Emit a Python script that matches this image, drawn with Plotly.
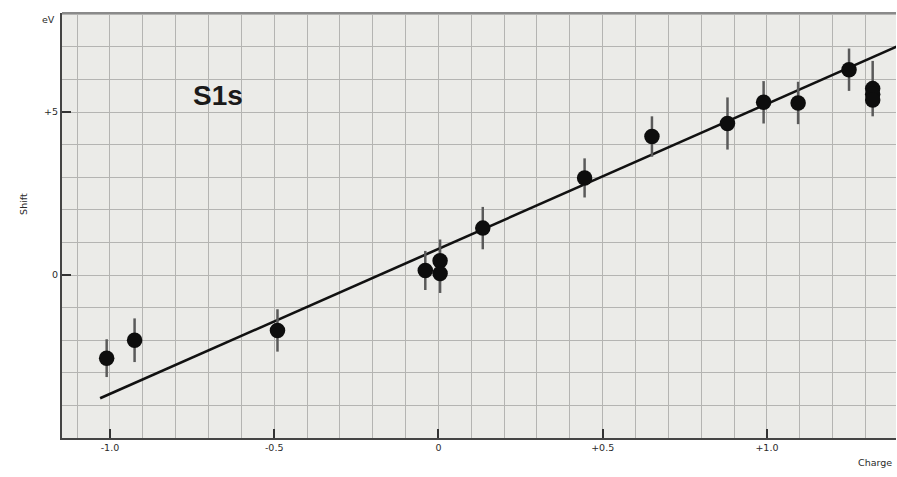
import plotly.graph_objects as go

charge = [-1.01, -0.925, -0.49, -0.04, 0.005, 0.005, 0.135, 0.445, 0.65, 0.88, 0.99, 1.095, 1.25, 1.322, 1.322, 1.322]
shift = [-2.55, -2.0, -1.7, 0.14, 0.44, 0.05, 1.44, 2.98, 4.25, 4.65, 5.3, 5.28, 6.3, 5.72, 5.55, 5.37]
err = [0.58, 0.67, 0.65, 0.6, 0.65, 0.6, 0.65, 0.6, 0.62, 0.8, 0.65, 0.65, 0.65, 0.85, 0.0, 0.0]

fit_x = [-1.03, 1.40]
fit_y = [-3.78, 7.03]

x_tickvals = [-1.0, -0.5, 0, 0.5, 1.0]
x_ticktext = ["-1.0", "-0.5", "0", "+0.5", "+1.0"]
y_tickvals = [0, 5]
y_ticktext = ["0", "+5"]

fig = go.Figure()
fig.add_trace(go.Scatter(
    x=fit_x, y=fit_y, mode="lines",
    line=dict(color="#111111", width=2.6), hoverinfo="skip", showlegend=False))
fig.add_trace(go.Scatter(
    x=charge, y=shift, mode="markers",
    marker=dict(color="#0d0d0d", size=15.5),
    error_y=dict(type="data", array=err, visible=True, color="#5a5a5a", thickness=2.5, width=0),
    showlegend=False))

tickfont = dict(family="DejaVu Sans, Arial", size=9.5, color="#2a2a2a")
grid = "#b4b4b2"
fig.update_layout(
    width=897, height=477,
    margin=dict(l=62, r=1, t=13, b=39),
    paper_bgcolor="white",
    plot_bgcolor="#ebebe8",
    xaxis=dict(
        range=[-1.146, 1.393],
        tickvals=x_tickvals, ticktext=x_ticktext,
        ticks="inside", ticklen=9, tickwidth=2, tickcolor="#333333",
        tickfont=tickfont,
        showline=True, linecolor="#444444", linewidth=2,
        showgrid=True, gridcolor=grid, gridwidth=1,
        zeroline=False,
        minor=dict(dtick=0.1, showgrid=True, gridcolor=grid, gridwidth=1, tick0=0),
    ),
    yaxis=dict(
        range=[-5.0, 8.04],
        tickvals=y_tickvals, ticktext=y_ticktext,
        ticks="inside", ticklen=9, tickwidth=2, tickcolor="#333333",
        tickfont=tickfont,
        showline=True, linecolor="#444444", linewidth=2,
        showgrid=True, gridcolor=grid, gridwidth=1,
        zeroline=False,
        minor=dict(dtick=1, showgrid=True, gridcolor=grid, gridwidth=1, tick0=0),
    ),
    shapes=[dict(type="line", xref="paper", yref="paper", x0=0, x1=1, y0=1, y1=1,
                 line=dict(color="#8a8a8a", width=2))],
    annotations=[
        dict(text="<b>S1s</b>", xref="x", yref="y", x=-0.67, y=5.5, showarrow=False,
             font=dict(family="Liberation Sans, Arial", size=28, color="#1a1a1a")),
        dict(text="eV", xref="paper", yref="paper", x=-0.006, y=0.985, xanchor="right", yanchor="middle",
             showarrow=False, font=tickfont),
        dict(text="Shift", xref="paper", yref="paper", x=-0.055, y=0.55, textangle=-90,
             showarrow=False, font=tickfont),
        dict(text="Charge", xref="paper", yref="paper", x=0.998, y=-0.075, xanchor="right",
             showarrow=False, font=tickfont),
    ],
)

fig.write_html("out.html")
